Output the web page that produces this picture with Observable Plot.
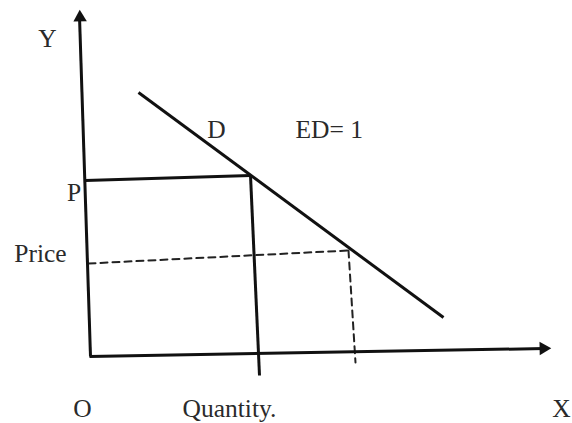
<!DOCTYPE html>
<html>
<head>
<meta charset="utf-8">
<script src="https://cdn.jsdelivr.net/npm/d3@7"></script>
<script src="https://cdn.jsdelivr.net/npm/@observablehq/plot@0.6"></script>
<style>
  html, body { margin: 0; padding: 0; background: #fff; }
  #chart svg { display: block; }
</style>
</head>
<body>
<div id="chart"></div>
<script>
// Points are [quantity, price] in chart units (origin O = [0, 0])
const axisY = [[0, -0.1], [-1.1, 33.9]];
const axisX = [[-0.1, -0.1], [45.4, 0.7]];
const demandCurve = [[4.8, 26.3], [35.3, 3.8]];
const priceLineP = [[-0.5, 17.5], [16.0, 18.0]];
const quantityLine = [[16.0, 18.0], [16.9, -2.0]];
const priceDashed = [[-0.2, 9.2], [25.8, 10.5]];
const quantityDashed = [[25.8, 10.5], [26.5, -0.7]];
const arrowHeads = [
  {q: -1.05, p: 33.8, angle: -2},
  {q: 45.3, p: 0.7, angle: 89}
];
const labelText = ["Y", "P", "Price", "O", "Quantity.", "X", "D", "ED= 1"];
const labelQ = [-4.3, -1.65, -5.0, -0.8, 13.9, 47.1, 12.6, 20.5];
const labelP = [30.9, 15.5, 9.4, -6.1, -6.1, -6.1, 21.8, 21.8];
const labelAnchor = ["middle", "middle", "middle", "middle", "middle", "middle", "middle", "start"];

const labels = labelText.map((t, i) => ({text: t, q: labelQ[i], p: labelP[i], anchor: labelAnchor[i]}));
const seg = (data, opts) => Plot.line(data, {x: d => d[0], y: d => d[1], ...opts});

const solid = {stroke: "#111", strokeWidth: 3, strokeLinecap: "butt"};
const dashed = {stroke: "#222", strokeWidth: 2, strokeDasharray: "7,5"};

const chart = Plot.plot({
  width: 572,
  height: 423,
  margin: 0,
  x: {domain: [-9, 48.2], axis: null},
  y: {domain: [-6.8, 35.5], axis: null},
  style: {background: "#fff", fontFamily: "'Liberation Serif', serif"},
  marks: [
    seg(priceDashed, dashed),
    seg(quantityDashed, dashed),
    seg(axisY, solid),
    seg(axisX, solid),
    seg(demandCurve, solid),
    seg(priceLineP, solid),
    seg(quantityLine, solid),
    Plot.dot(arrowHeads, {x: "q", y: "p", symbol: "triangle", r: 5, fill: "#111", stroke: "none", rotate: "angle"}),
    Plot.text(labels.filter(d => d.anchor === "middle"), {x: "q", y: "p", text: "text", fontSize: 25.5, fill: "#2a2a2a", textAnchor: "middle", lineAnchor: "bottom"}),
    Plot.text(labels.filter(d => d.anchor === "start"), {x: "q", y: "p", text: "text", fontSize: 25.5, fill: "#2a2a2a", textAnchor: "start", lineAnchor: "bottom"})
  ]
});
document.getElementById("chart").appendChild(chart);
</script>
</body>
</html>
